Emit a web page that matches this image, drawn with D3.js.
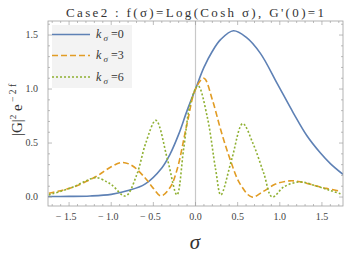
<!DOCTYPE html>
<html><head><meta charset="utf-8">
<script src="https://cdn.jsdelivr.net/npm/d3@7"></script>
<style>body{margin:0;background:#fff}svg{display:block}text{font-family:"Liberation Serif","DejaVu Serif",serif}</style>
</head><body><svg id="c" width="346" height="259"></svg>
<script>
const titleText = "Case2 :  f(σ)=Log(Cosh  σ),  G'(0)=1";
const seriesNames = ["0", "3", "6"];
const xTicks = [-1.5, -1.0, -0.5, 0.0, 0.5, 1.0, 1.5];
const yTicks = [0.0, 0.5, 1.0, 1.5];
const sigma0 = [-1.75,-1.5,-1.25,-1.0,-0.8,-0.6,-0.4,-0.3,-0.2,-0.1,0,0.1,0.2,0.3,0.45,0.6,0.77,0.97,1.16,1.32,1.48,1.6,1.75];
const value0 = [0.005,0.006,0.01,0.025,0.06,0.12,0.27,0.4,0.58,0.8,1.0,1.2,1.35,1.46,1.54,1.48,1.33,1.05,0.78,0.57,0.41,0.31,0.21];
const sigma3 = [-1.74,-1.46,-1.18,-1.0,-0.87,-0.75,-0.59,-0.5,-0.41,-0.3,-0.22,-0.1,0,0.1,0.2,0.3,0.41,0.53,0.67,0.8,0.95,1.12,1.25,1.4,1.55,1.72];
const value3 = [0.035,0.09,0.19,0.28,0.32,0.29,0.17,0.08,0.01,0.09,0.25,0.68,1.0,1.10,0.9,0.62,0.35,0.12,0.0,0.05,0.12,0.15,0.14,0.11,0.08,0.055];
const sigma6 = [-1.74,-1.46,-1.3,-1.18,-1.05,-0.99,-0.83,-0.7,-0.59,-0.47,-0.33,-0.22,-0.14,-0.06,0.03,0.14,0.24,0.30,0.43,0.56,0.68,0.81,0.91,1.05,1.24,1.44,1.6,1.72];
const value6 = [0.02,0.09,0.15,0.18,0.14,0.11,0.01,0.2,0.5,0.71,0.34,0.02,0.45,0.87,1.03,0.74,0.25,0.02,0.35,0.68,0.5,0.22,0.0,0.095,0.14,0.10,0.06,0.03];

const colors = ["#5E81B5", "#E19C24", "#8FB032"];
const dashes = [null, "6,3", "2,2"];
const series = [[sigma0, value0], [sigma3, value3], [sigma6, value6]];

const svg = d3.select("#c");
const L = 48, R = 343, T = 21, B = 206;
const x = d3.scaleLinear().domain([-1.75, 1.75]).range([L, R]);
const y = d3.scaleLinear().domain([-0.083, 1.63]).range([B, T]);

svg.append("clipPath").attr("id","clip").append("rect").attr("x",L).attr("y",T).attr("width",R-L).attr("height",B-T);

svg.append("line").attr("x1", x(0)).attr("x2", x(0)).attr("y1", T).attr("y2", B)
  .attr("stroke", "#c8c8c8").attr("stroke-width", 1.2);

svg.append("rect").attr("x", 52).attr("y", 25).attr("width", 80).attr("height", 63).attr("fill", "#f3f3f3");

const line = d3.line().curve(d3.curveCatmullRom.alpha(0.5)).x(d => x(d[0])).y(d => y(d[1]));
series.forEach((s, i) => {
  const pts = s[0].map((v, j) => [v, s[1][j]]);
  svg.append("path").attr("d", line(pts)).attr("fill", "none")
    .attr("stroke", colors[i]).attr("stroke-width", 1.6)
    .attr("stroke-dasharray", dashes[i]).attr("clip-path", "url(#clip)");
});

const frameCol = "#a0a0a0";
svg.append("rect").attr("x", L).attr("y", T).attr("width", R-L).attr("height", B-T)
  .attr("fill", "none").attr("stroke", frameCol).attr("stroke-width", 0.8);
const tg = svg.append("g").attr("stroke", frameCol).attr("stroke-width", 0.7);
const xMinor = d3.range(-17, 18).map(i => i / 10);
xMinor.forEach(v => {
  const major = Math.abs(v * 2 - Math.round(v * 2)) < 1e-6;
  const len = major ? 4 : 2;
  tg.append("line").attr("x1", x(v)).attr("x2", x(v)).attr("y1", B).attr("y2", B - len);
  tg.append("line").attr("x1", x(v)).attr("x2", x(v)).attr("y1", T).attr("y2", T + len);
});
const yMinor = d3.range(0, 17).map(i => i / 10);
yMinor.forEach(v => {
  const major = Math.abs(v * 2 - Math.round(v * 2)) < 1e-6;
  const len = major ? 4 : 2;
  if (y(v) < T) return;
  tg.append("line").attr("y1", y(v)).attr("y2", y(v)).attr("x1", L).attr("x2", L + len);
  tg.append("line").attr("y1", y(v)).attr("y2", y(v)).attr("x1", R).attr("x2", R - len);
});

const fmt = v => (v < 0 ? "\u2212 " : "") + Math.abs(v).toFixed(1);
xTicks.forEach(v => {
  svg.append("text").attr("x", x(v) - (v < 0 ? 3 : 0)).attr("y", 220).attr("text-anchor", "middle")
    .attr("font-size", 10).attr("fill", "#444").text(fmt(v));
});
yTicks.forEach(v => {
  svg.append("text").attr("x", 38).attr("y", y(v) + 3.3).attr("text-anchor", "end")
    .attr("font-size", 10).attr("fill", "#444").text(fmt(v));
});

svg.append("text").attr("x", 195).attr("y", 17).attr("text-anchor", "middle")
  .attr("font-size", 13).attr("fill", "#333")
  .attr("textLength", 258).attr("lengthAdjust", "spacing").text(titleText);

svg.append("text").attr("x", 195).attr("y", 249).attr("text-anchor", "middle")
  .attr("font-size", 21).attr("font-style", "italic").attr("fill", "#333").text("σ");

const yl = svg.append("text").attr("transform", "translate(22,110) rotate(-90)")
  .attr("text-anchor", "middle").attr("font-size", 15).attr("fill", "#333");
yl.append("tspan").text("|G|");
yl.append("tspan").attr("dy", -6).attr("font-size", 9).text("2");
yl.append("tspan").attr("dy", 6).text("  e");
yl.append("tspan").attr("dy", -6).attr("font-size", 9.5).text(" \u2212 2  f");

const ly = [34.5, 55.5, 77];
seriesNames.forEach((n, i) => {
  svg.append("line").attr("x1", 52).attr("x2", 90).attr("y1", ly[i]).attr("y2", ly[i])
    .attr("stroke", colors[i]).attr("stroke-width", 1.6).attr("stroke-dasharray", dashes[i]);
  const t = svg.append("text").attr("x", 96).attr("y", ly[i] + 3.5).attr("font-size", 12).attr("fill", "#333");
  t.append("tspan").attr("font-style", "italic").text("k");
  t.append("tspan").attr("font-style", "italic").attr("font-size", 9).attr("dy", 3).text(" σ");
  t.append("tspan").attr("dy", -3).text(" =" + n);
});
</script></body></html>
